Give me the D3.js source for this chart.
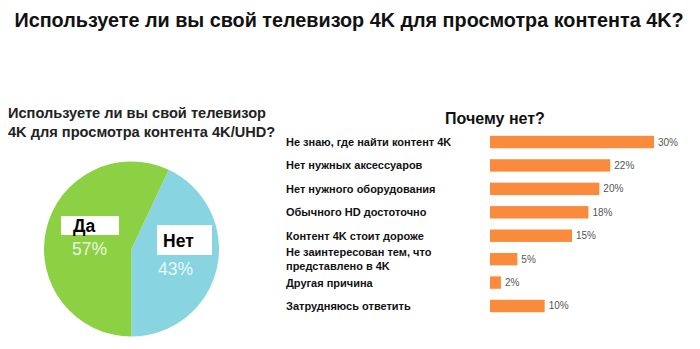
<!DOCTYPE html>
<html><head><meta charset="utf-8">
<script src="https://cdn.jsdelivr.net/npm/d3@7"></script>
<style>body{margin:0;background:#fff}svg{display:block}text{font-family:"Liberation Sans",Arial,sans-serif}</style>
</head><body><svg id="c" width="700" height="349"></svg>
<script>
const pieLabels = ["Нет", "Да"];
const pieValues = [43, 57];
const pieColors = ["#88D5E1", "#8CD044"];
const barCategories = [
  ["Не знаю, где найти контент 4K"],
  ["Нет нужных аксессуаров"],
  ["Нет нужного оборудования"],
  ["Обычного HD достоточно"],
  ["Контент 4K стоит дороже"],
  ["Не заинтересован тем, что", "представлено в 4K"],
  ["Другая причина"],
  ["Затрудняюсь ответить"]
];
const barValues = [30, 22, 20, 18, 15, 5, 2, 10];

const svg = d3.select("#c");
svg.append("text").attr("x", 349).attr("y", 27).attr("text-anchor", "middle")
  .attr("font-size", 19.8).attr("font-weight", "bold").attr("fill", "#111")
  .text("Используете ли вы свой телевизор 4K для просмотра контента 4K?");

// Pie section
const sub = svg.append("text").attr("font-size", 14.6).attr("font-weight", "bold").attr("fill", "#222");
sub.append("tspan").attr("x", 8).attr("y", 118).text("Используете ли вы свой телевизор");
sub.append("tspan").attr("x", 8).attr("y", 137).text("4K для просмотра контента 4K/UHD?");

const cx = 131.5, cy = 249, r = 87.5;
const pie = d3.pie().sort(null).value(d => d)
  .startAngle(Math.PI - 2 * Math.PI * pieValues[0] / 100).endAngle(3 * Math.PI - 2 * Math.PI * pieValues[0] / 100);
const arcs = pie(pieValues);
const arc = d3.arc().innerRadius(0).outerRadius(r);
const pg = svg.append("g").attr("transform", `translate(${cx},${cy})`);
pg.selectAll("path").data(arcs).join("path").attr("d", arc).attr("fill", (d, i) => pieColors[i]);

// label boxes
const boxes = [
  {x: 157, y: 225, w: 55, h: 30, tx: 163, ty: 247, px: 158, py: 275},
  {x: 61, y: 216, w: 58, h: 19, tx: 73, ty: 232, px: 72, py: 255}
];
boxes.forEach((b, i) => {
  svg.append("rect").attr("x", b.x).attr("y", b.y).attr("width", b.w).attr("height", b.h).attr("fill", "#fff");
  svg.append("text").attr("x", b.tx).attr("y", b.ty).attr("font-size", 17.5).attr("font-weight", "bold").attr("fill", "#000").text(pieLabels[i]);
  svg.append("text").attr("x", b.px).attr("y", b.py).attr("font-size", 17.5).attr("fill", "#fff").attr("fill-opacity", 0.85).attr("font-family", "'Open Sans',sans-serif").text(pieValues[i] + "%");
});

// Bar section
svg.append("text").attr("x", 495).attr("y", 124).attr("text-anchor", "middle")
  .attr("font-size", 16).attr("font-weight", "bold").attr("fill", "#111").text("Почему нет?");

const x = d3.scaleLinear().domain([0, 30]).range([490, 654]);
const y = d3.scaleBand().domain(d3.range(barValues.length)).range([130.3, 317.7]).paddingInner(0.47).paddingOuter(0.235);

svg.append("g").selectAll("rect").data(barValues).join("rect")
  .attr("x", x(0)).attr("y", (d, i) => y(i)).attr("width", d => x(d) - x(0)).attr("height", y.bandwidth())
  .attr("fill", "#FA8B3C");

svg.append("g").selectAll("text").data(barValues).join("text")
  .attr("x", d => x(d) + 4).attr("y", (d, i) => y(i) + y.bandwidth() / 2 + 3.5)
  .attr("font-size", 10).attr("fill", "#555").attr("font-family", "'Open Sans',sans-serif").text(d => d + "%");

const lg = svg.append("g");
barCategories.forEach((lines, i) => {
  const cyb = y(i) + y.bandwidth() / 2;
  const t = lg.append("text").attr("font-size", 11).attr("font-weight", "bold").attr("fill", "#111");
  lines.forEach((l, j) => {
    t.append("tspan").attr("x", 286).attr("y", cyb + 4 + (j - (lines.length - 1) / 2) * 14).text(l);
  });
});
</script></body></html>
